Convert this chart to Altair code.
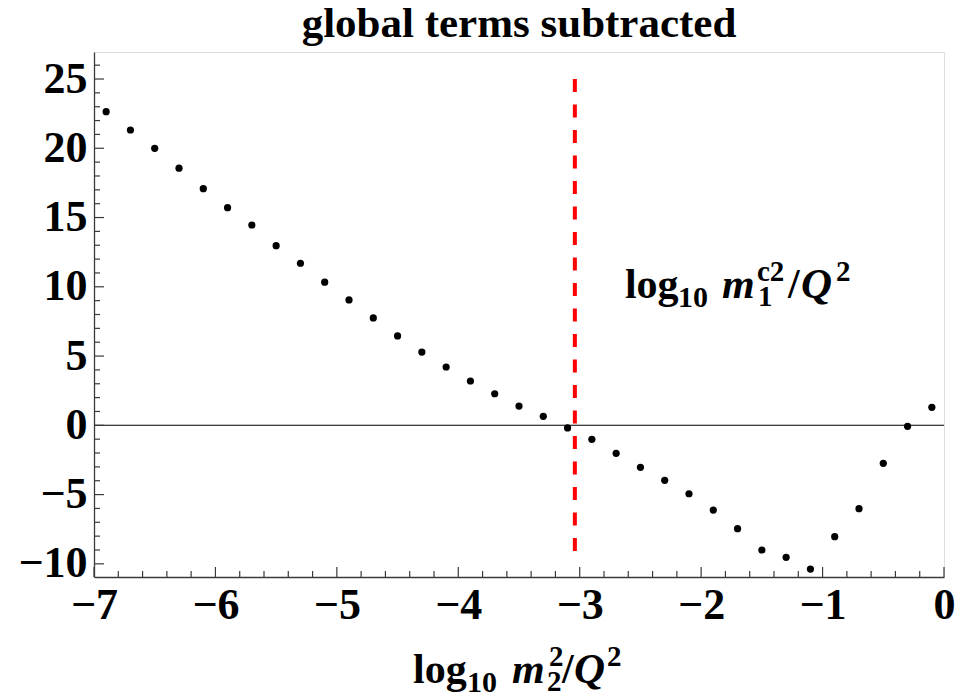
import altair as alt
import pandas as pd

# Sampled curve: log10 m2^2/Q^2 against the subtracted result
x_vals = [-6.9, -6.7, -6.5, -6.3, -6.1, -5.9, -5.7, -5.5, -5.3, -5.1,
          -4.9, -4.7, -4.5, -4.3, -4.1, -3.9, -3.7, -3.5, -3.3, -3.1,
          -2.9, -2.7, -2.5, -2.3, -2.1, -1.9, -1.7, -1.5, -1.3, -1.1,
          -0.9, -0.7, -0.5, -0.3, -0.1]
y_vals = [22.64, 21.32, 20.00, 18.56, 17.08, 15.71, 14.46, 12.97, 11.70, 10.33,
          9.05, 7.75, 6.45, 5.29, 4.21, 3.20, 2.28, 1.39, 0.65, -0.19,
          -1.01, -2.02, -3.03, -3.97, -4.94, -6.12, -7.46, -9.00, -9.53, -10.38,
          -8.04, -6.02, -2.74, -0.07, 1.30]

# Reference mass scale log10 m1^c2/Q^2 and the extent of its marker line
ref_x = [-3.04]
ref_y_top = [25.0]
ref_y_bottom = [-9.1]

# Frame tick positions
x_major = [-7, -6, -5, -4, -3, -2, -1, 0]
x_minor = [-6.8, -6.6, -6.4, -6.2, -5.8, -5.6, -5.4, -5.2, -4.8, -4.6, -4.4, -4.2,
           -3.8, -3.6, -3.4, -3.2, -2.8, -2.6, -2.4, -2.2, -1.8, -1.6, -1.4, -1.2,
           -0.8, -0.6, -0.4, -0.2]
y_major = [-10, -5, 0, 5, 10, 15, 20, 25]
y_minor = [-9, -8, -7, -6, -4, -3, -2, -1, 1, 2, 3, 4, 6, 7, 8, 9, 11, 12, 13, 14,
           16, 17, 18, 19, 21, 22, 23, 24, 26]

W, H = 850, 525
FONT = "Liberation Serif"
AXIS_COLOR = "#3a3a3a"

xs = alt.Scale(domain=[-7, 0], nice=False, zero=False)
ys = alt.Scale(domain=[-10.95, 26.95], nice=False, zero=False)

pts = pd.DataFrame({"x": x_vals, "y": y_vals})

points = alt.Chart(pts).mark_circle(size=52, color="black", opacity=1).encode(
    x=alt.X("x:Q", scale=xs,
            axis=alt.Axis(values=x_major, format="d", labelPadding=6, title=None)),
    y=alt.Y("y:Q", scale=ys,
            axis=alt.Axis(values=y_major, format="d", labelPadding=7, title=None)),
)

zero_line = alt.Chart(pd.DataFrame({"x": [-7], "x2": [0], "y": [0]})).mark_rule(
    color="black", strokeWidth=1.1
).encode(
    x=alt.X("x:Q", scale=xs), x2="x2:Q",
    y=alt.Y("y:Q", scale=ys),
)

ref_line = alt.Chart(pd.DataFrame({"x": ref_x, "y": ref_y_top, "y2": ref_y_bottom})).mark_rule(
    color="#ff0000", strokeWidth=4, strokeDash=[13, 12.5]
).encode(
    x=alt.X("x:Q", scale=xs),
    y=alt.Y("y:Q", scale=ys), y2="y2:Q",
)


def x_ticks(vals, length):
    return alt.Chart(pd.DataFrame({"x": vals})).mark_rule(
        color=AXIS_COLOR, strokeWidth=1.2
    ).encode(
        x=alt.X("x:Q", scale=xs),
        y=alt.value(H), y2=alt.value(H - length),
    )


def y_ticks(vals, length):
    return alt.Chart(pd.DataFrame({"y": vals})).mark_rule(
        color=AXIS_COLOR, strokeWidth=1.2
    ).encode(
        y=alt.Y("y:Q", scale=ys),
        x=alt.value(0), x2=alt.value(length),
    )


def piece(text, dx, dy, size, italic=False, anchor=None, px=None):
    """One run of a composed math label, placed relative to a baseline anchor."""
    kw = dict(text=text, font=FONT, fontWeight="bold", fontSize=size, dx=dx, dy=dy,
              align="left", baseline="alphabetic", color="black")
    if italic:
        kw["fontStyle"] = "italic"
    if anchor is not None:
        src = pd.DataFrame({"x": [anchor[0]], "y": [anchor[1]]})
        return alt.Chart(src).mark_text(**kw).encode(
            x=alt.X("x:Q", scale=xs),
            y=alt.Y("y:Q", scale=ys),
        )
    return alt.Chart(pd.DataFrame({"k": [0]})).mark_text(**kw).encode(
        x=alt.value(px[0]), y=alt.value(px[1])
    )


# Label of the reference line: log10 m1^c2 / Q^2
lab = (-2.628, 9.19)
ref_label = [
    piece("log", 0, 0, 42, anchor=lab),
    piece("10", 53, 9, 30, anchor=lab),
    piece("m", 97, 0, 42, italic=True, anchor=lab),
    piece("c2", 132, -17, 29, anchor=lab),
    piece("1", 133, 8, 29, anchor=lab),
    piece("/", 163, 0, 42, anchor=lab),
    piece("Q", 176, 0, 43, italic=True, anchor=lab),
    piece("2", 211, -17, 29, anchor=lab),
]

# Horizontal axis title: log10 m2^2 / Q^2
tp = (319, 631)
x_title = [
    piece("log", 0, 0, 42, px=tp),
    piece("10", 54, 9, 30, px=tp),
    piece("m", 99, 0, 42, italic=True, px=tp),
    piece("2", 136, -17, 29, px=tp),
    piece("2", 134, 8, 29, px=tp),
    piece("/", 149, 0, 42, px=tp),
    piece("Q", 161, 0, 43, italic=True, px=tp),
    piece("2", 194, -17, 29, px=tp),
]

chart = alt.layer(
    points,
    zero_line,
    ref_line,
    x_ticks(x_major, 10), x_ticks(x_minor, 6),
    y_ticks(y_major, 10), y_ticks(y_minor, 6),
    *ref_label,
    *x_title,
).properties(
    width=W, height=H,
    padding={"left": 94, "top": 52, "right": 13, "bottom": 119},
    autosize=alt.AutoSizeParams(type="none"),
    title=alt.TitleParams(
        "global terms subtracted", font=FONT, fontWeight="bold", fontSize=43,
        color="black", anchor="middle", offset=6,
    ),
).configure_view(stroke=None).configure(background="white").configure_axis(
    ticks=False, grid=False, domain=True, domainColor=AXIS_COLOR, domainWidth=1.3,
    labelFont=FONT, labelFontWeight="bold", labelFontSize=44, labelColor="black",
    labelFlush=False, labelOverlap=False, title=None,
)

chart.save("out.html", embed_options={"renderer": "svg", "actions": False})
